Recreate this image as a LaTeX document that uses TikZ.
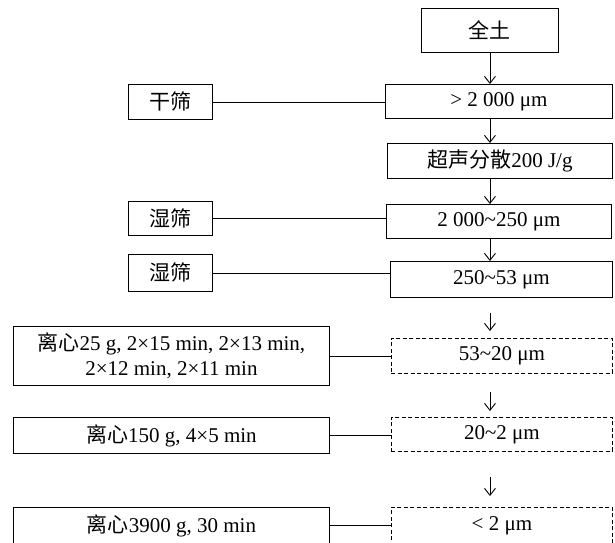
\documentclass[tikz,border=0pt]{standalone}
\usepackage{fontspec}
\setmainfont{Liberation Serif}
\newfontfamily\cjk{Noto Sans CJK SC}
\usetikzlibrary{arrows.meta,calc}
\begin{document}
\begin{tikzpicture}[x=1pt,y=-1pt,
  box/.style={draw=black,line width=0.9pt,anchor=north west,inner sep=0pt,
    font=\fontsize{21}{25}\selectfont,text=black,align=center},
  dbox/.style={box,dash pattern=on 4pt off 2.5pt},
  arr/.style={draw=black,line width=0.9pt,-{Straight Barb[length=7pt,width=11pt]}},
  conn/.style={draw=black,line width=0.9pt}]
\useasboundingbox (0,0) rectangle (615,542);
\fill[white] (0,0) rectangle (615,542);
\clip (0,0) rectangle (615,542);
% right column
\node[box,minimum width=137pt,minimum height=44pt] (qt) at (421,8) {{\cjk 全土}};
\node[box,minimum width=227pt,minimum height=34pt] (b1) at (385,84) {> 2 000 μm};
\node[box,minimum width=225pt,minimum height=35pt] (b2) at (387,143) {{\cjk 超声分散}200 J/g};
\node[box,minimum width=225pt,minimum height=34pt] (b3) at (386,204) {2 000\textasciitilde250 μm};
\node[box,minimum width=222pt,minimum height=36pt] (b4) at (390,261) {250\textasciitilde53 μm};
\node[dbox,minimum width=221pt,minimum height=35pt] (b5) at (391,338) {53\textasciitilde20 μm};
\node[dbox,minimum width=221pt,minimum height=34pt] (b6) at (391,417) {20\textasciitilde2 μm};
\node[dbox,minimum width=221pt,minimum height=36pt] (b7) at (391,507) {< 2 μm};
% left column
\node[box,minimum width=84pt,minimum height=35pt] (l1) at (128,84) {{\cjk 干筛}};
\node[box,minimum width=84pt,minimum height=34pt] (l2) at (128,201) {{\cjk 湿筛}};
\node[box,minimum width=84pt,minimum height=37pt] (l3) at (128,254) {{\cjk 湿筛}};
\node[box,minimum width=316pt,minimum height=59pt] (l4) at (13,326)
  {{\cjk 离心}25 g, 2×15 min, 2×13 min,\\2×12 min, 2×11 min};
\node[box,minimum width=316pt,minimum height=36pt] (l5) at (13,417) {{\cjk 离心}150 g, 4×5 min};
\node[box,minimum width=316pt,minimum height=36pt] (l6) at (13,507) {{\cjk 离心}3900 g, 30 min};
% connectors
\draw[conn] (l1.east) -- (l1.east -| b1.west);
\draw[conn] (l2.east) -- (l2.east -| b3.west);
\draw[conn] (l3.east) -- (l3.east -| b4.west);
\draw[conn] (l4.east) -- (l4.east -| b5.west);
\draw[conn] (l5.east) -- (l5.east -| b6.west);
\draw[conn] (l6.east) -- (l6.east -| b7.west);
% arrows
\draw[arr] (qt.south) -- (qt.south |- b1.north);
\draw[arr] (qt.south |- b1.south) -- (qt.south |- b2.north);
\draw[arr] (qt.south |- b2.south) -- (qt.south |- b3.north);
\draw[arr] (qt.south |- b3.south) -- (qt.south |- b4.north);
\draw[arr] ($(qt.south |- b4.south)+(0,15)$) -- ($(qt.south |- b5.north)+(0,-7)$);
\draw[arr] ($(qt.south |- b5.south)+(0,18)$) -- ($(qt.south |- b6.north)+(0,-6)$);
\draw[arr] ($(qt.south |- b6.south)+(0,25)$) -- ($(qt.south |- b7.north)+(0,-11)$);
\end{tikzpicture}
\end{document}
